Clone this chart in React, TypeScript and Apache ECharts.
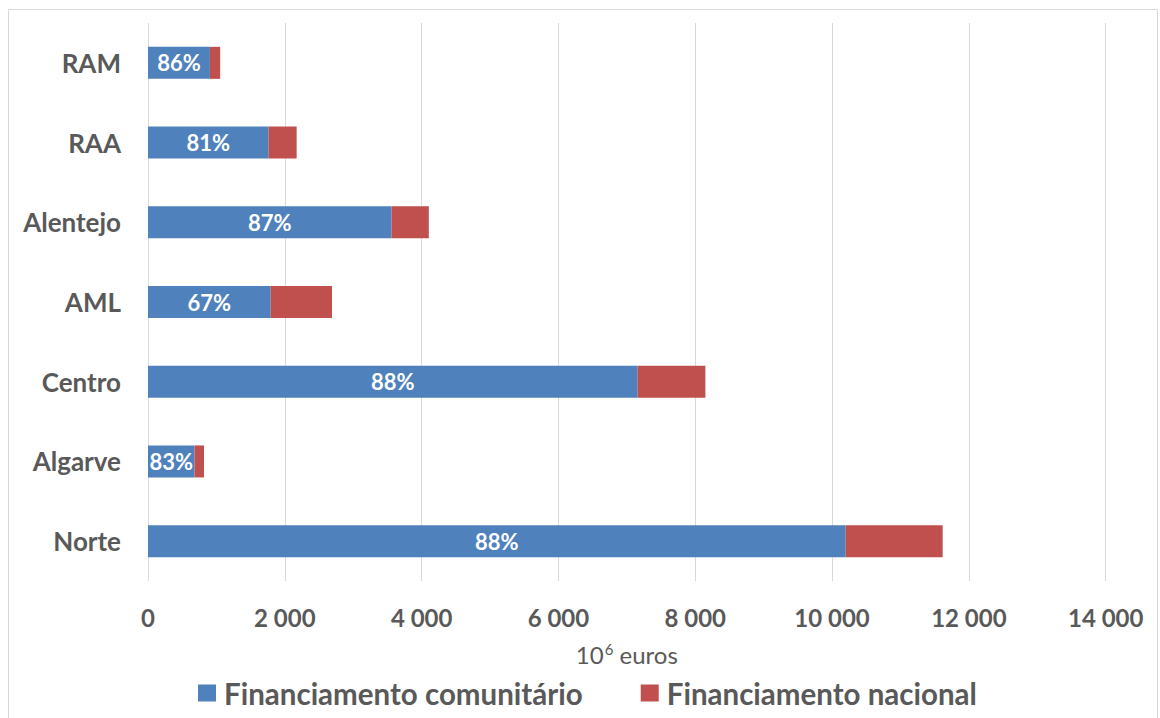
import React, { useEffect, useRef } from "react";
import * as echarts from "echarts";

// Categories from bottom to top (ECharts category y axis order)
const regions = ["Norte", "Algarve", "Centro", "AML", "Alentejo", "RAA", "RAM"];
const financiamentoComunitario = [10199, 681, 7158, 1793, 3560, 1763, 905];
const financiamentoNacional = [1418, 138, 990, 897, 545, 410, 150];
const shareLabels = ["88%", "83%", "88%", "67%", "87%", "81%", "86%"];
const seriesNames = ["Financiamento comunitário", "Financiamento nacional"];
const axisName = "10{sup|6} euros";

const FONT = "Lato, 'Open Sans', sans-serif";
const GRAY = "#595959";

export default function App() {
  const ref = useRef<HTMLDivElement>(null);

  useEffect(() => {
    if (!ref.current) return;
    const chart = echarts.init(ref.current, undefined, { renderer: "svg" });
    chart.setOption({
      animation: false,
      backgroundColor: "#ffffff",
      textStyle: { fontFamily: FONT },
      graphic: [
        {
          type: "rect",
          shape: { x: 8.5, y: 9.5, width: 1149, height: 720 },
          style: { fill: "none", stroke: "#d9d9d9", lineWidth: 1 },
          silent: true,
        },
      ],
      grid: { left: 148, right: 54.3, top: 23, bottom: 137, containLabel: false },
      legend: {
        left: 193,
        top: 673,
        icon: "rect",
        itemWidth: 18,
        itemHeight: 17,
        itemGap: 58,
        textStyle: { fontFamily: FONT, fontWeight: "bold", fontSize: 29.5, color: GRAY, padding: [0, 0, 0, 3] },
        data: seriesNames,
      },
      xAxis: {
        type: "value",
        min: 0,
        max: 14000,
        interval: 2000,
        name: axisName,
        nameLocation: "middle",
        nameGap: 60,
        nameTextStyle: {
          fontFamily: FONT,
          fontSize: 24,
          lineHeight: 26,
          color: GRAY,
          rich: {
            sup: { fontFamily: FONT, fontSize: 15, lineHeight: 26, verticalAlign: "top", color: GRAY, padding: [0, 0, 0, 1] },
          },
        },
        axisLine: { show: false },
        axisTick: { show: false },
        splitLine: { show: true, lineStyle: { color: "#d9d9d9", width: 1 } },
        axisLabel: {
          margin: 24,
          fontFamily: FONT,
          fontWeight: "bold",
          fontSize: 24,
          color: GRAY,
          formatter: (v: number) => String(v).replace(/\B(?=(\d{3})+(?!\d))/g, " "),
        },
      },
      yAxis: {
        type: "category",
        data: regions,
        axisLine: { show: false },
        axisTick: { show: false },
        splitLine: { show: false },
        axisLabel: {
          margin: 27,
          fontFamily: FONT,
          fontWeight: "bold",
          fontSize: 26,
          color: GRAY,
        },
      },
      series: [
        {
          name: seriesNames[0],
          type: "bar",
          stack: "total",
          barWidth: 32,
          data: financiamentoComunitario,
          itemStyle: { color: "#4F81BD" },
          label: {
            show: true,
            position: "inside",
            fontFamily: FONT,
            fontWeight: "bold",
            fontSize: 22,
            color: "#ffffff",
            formatter: (p: any) => shareLabels[p.dataIndex],
          },
        },
        {
          name: seriesNames[1],
          type: "bar",
          stack: "total",
          barWidth: 32,
          data: financiamentoNacional,
          itemStyle: { color: "#C0504D" },
        },
      ],
    });
    return () => chart.dispose();
  }, []);

  return (
    <div
      ref={ref}
      style={{ position: "fixed", left: 0, top: 0, width: 1160, height: 718, background: "#fff" }}
    />
  );
}
